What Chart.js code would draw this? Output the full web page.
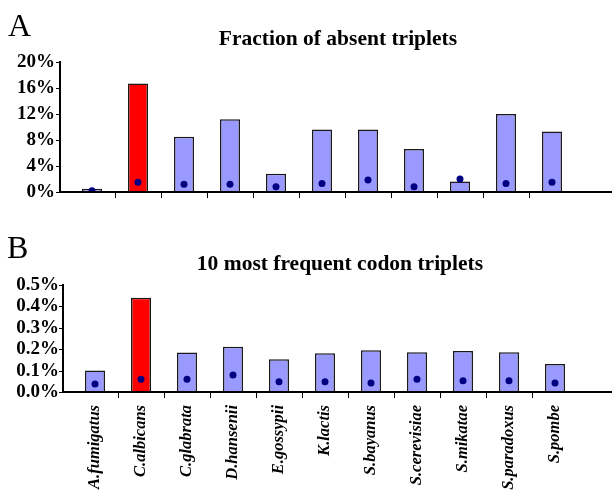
<!DOCTYPE html>
<html>
<head>
<meta charset="utf-8">
<script src="https://cdn.jsdelivr.net/npm/chart.js@4.4.1/dist/chart.umd.min.js"></script>
<style>
  body { margin: 0; background: #fff; }
  #wrap { position: relative; width: 612px; height: 499px; font-family: "Liberation Serif", "Times New Roman", serif; color: #000; }
  .panel { position: absolute; font-size: 32px; line-height: 32px; }
  .title { position: absolute; font-weight: bold; font-size: 21.5px; line-height: 24px; white-space: nowrap; transform: translateX(-50%); z-index: 2; }
  canvas { position: absolute; left: 0; }
</style>
</head>
<body>
<div id="wrap">
  <canvas id="chartA" width="612" height="230" style="top:0"></canvas>
  <canvas id="chartB" width="612" height="269" style="top:230px"></canvas>
  <div class="panel" style="left:8px; top:9px">A</div>
  <div class="title" style="left:338px; top:26px">Fraction of absent triplets</div>
  <div class="panel" style="left:7px; top:231px">B</div>
  <div class="title" style="left:340px; top:251px">10 most frequent codon triplets</div>
</div>
<script>
// species on the x axis
const species = [
  "A.fumigatus", "C.albicans", "C.glabrata", "D.hansenii", "E.gossypii",
  "K.lactis", "S.bayanus", "S.cerevisiae", "S.mikatae", "S.paradoxus", "S.pombe",
];

// panel A: fraction of absent triplets (%), bars and dots
const absentBars = [0.5, 16.7, 8.5, 11.2, 2.8, 9.6, 9.6, 6.6, 1.6, 12.0, 9.3];
const absentDots = [0.2, 1.5, 1.2, 1.2, 0.8, 1.3, 1.85, 0.8, 2.0, 1.3, 1.5];
const absentTicks = [0, 4, 8, 12, 16, 20];

// panel B: 10 most frequent codon triplets (%), bars and dots
const frequentBars = [0.10, 0.44, 0.184, 0.212, 0.153, 0.181, 0.195, 0.186, 0.192, 0.186, 0.131];
const frequentDots = [0.037, 0.059, 0.059, 0.079, 0.048, 0.048, 0.042, 0.059, 0.053, 0.053, 0.042];
const frequentTicks = [0, 0.1, 0.2, 0.3, 0.4, 0.5];

const serif = "'Liberation Serif', 'Times New Roman', serif";
const blue = "#9999ff";
const red = "#ff0000";
const highlight = "C.albicans";

// draws the y axis line (set a bit left of the plot) and the x axis line
const axesPlugin = {
  id: "axes",
  afterDatasetsDraw(chart, args, opts) {
    const { ctx, chartArea } = chart;
    const y = chart.scales.y;
    const x0 = opts.axisX;
    ctx.save();
    ctx.strokeStyle = "#000";
    ctx.lineWidth = 2;
    ctx.beginPath();
    ctx.moveTo(x0, chartArea.top - 1);
    ctx.lineTo(x0, chartArea.bottom);
    ctx.lineTo(chart.width, chartArea.bottom);
    ctx.stroke();
    // small tick marks on the y axis
    ctx.lineWidth = 1;
    y.ticks.forEach((t, i) => {
      const py = Math.round(y.getPixelForTick(i)) + 0.5;
      ctx.beginPath();
      ctx.moveTo(x0 - 4, py);
      ctx.lineTo(x0, py);
      ctx.stroke();
    });
    ctx.restore();
  },
};

function makeChart(id, bars, dots, ticks, cfg) {
  const ctx = document.getElementById(id).getContext("2d");
  return new Chart(ctx, {
    type: "bar",
    data: {
      labels: species,
      datasets: [
        {
          type: "line",
          data: dots,
          showLine: false,
          pointRadius: 3.5,
          pointBackgroundColor: "#000080",
          pointBorderWidth: 0,
          order: 0,
        },
        {
          data: bars,
          backgroundColor: species.map((s) => (s === highlight ? red : blue)),
          borderColor: "#1a1a1a",
          borderWidth: 1.5,
          barPercentage: 0.435,
          categoryPercentage: 1,
          order: 1,
        },
      ],
    },
    options: {
      responsive: false,
      animation: false,
      layout: { padding: { top: cfg.top, right: cfg.right, left: 0, bottom: 0 } },
      plugins: {
        legend: { display: false },
        tooltip: { enabled: false },
        axes: { axisX: cfg.axisX },
      },
      scales: {
        x: {
          afterFit: (s) => { s.height = cfg.xHeight; },
          border: { display: false },
          grid: {
            drawOnChartArea: false,
            tickLength: 6,
            lineWidth: 1,
            color: (c) => (c.index === 0 || c.index === undefined ? "rgba(0,0,0,0)" : "#000"),
          },
          ticks: {
            display: cfg.showLabels,
            autoSkip: false,
            minRotation: 90,
            maxRotation: 90,
            padding: 7,
            color: "#000",
            font: { family: serif, size: 16.5, style: "italic", weight: "bold" },
          },
        },
        y: {
          min: 0,
          max: ticks[ticks.length - 1],
          afterBuildTicks: (s) => { s.ticks = ticks.map((v) => ({ value: v })); },
          afterFit: (s) => { s.width = cfg.left; },
          border: { display: false },
          grid: { display: false, drawTicks: false },
          ticks: {
            autoSkip: false,
            padding: cfg.labelPad,
            color: "#000",
            font: { family: serif, size: 19, weight: "bold" },
            callback: cfg.fmt,
          },
        },
      },
    },
    plugins: [axesPlugin],
  });
}

makeChart("chartA", absentBars, absentDots, absentTicks, {
  top: 62, right: 37, left: 69, axisX: 60, xHeight: 38, labelPad: 14,
  showLabels: false, fmt: (v) => v + "%",
});

makeChart("chartB", frequentBars, frequentDots, frequentTicks, {
  top: 55, right: 34, left: 72, axisX: 63, xHeight: 107, labelPad: 13,
  showLabels: true, fmt: (v) => v.toFixed(1) + "%",
});
</script>
</body>
</html>
